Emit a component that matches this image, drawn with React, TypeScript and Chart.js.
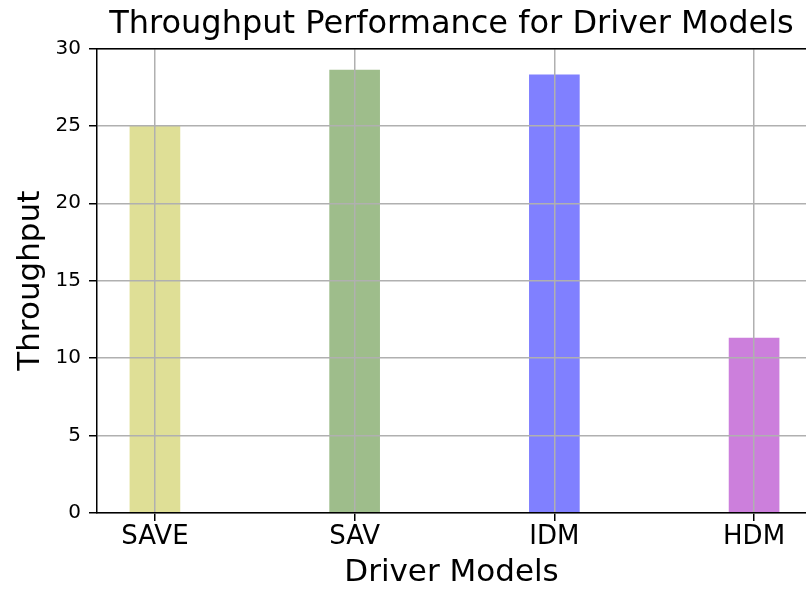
import React, { useEffect, useRef } from "react";
import { Chart, registerables } from "chart.js";

Chart.register(...registerables);

const categories = ["SAVE", "SAV", "IDM", "HDM"];
const throughput = [25.0, 28.6, 28.3, 11.3];
const barColors = ["#dfdf96", "#9ebd8b", "#8080ff", "#cc7fdc"];
const yTicks = [0, 5, 10, 15, 20, 25, 30];

const FONT = "'DejaVu Sans', sans-serif";

export default function App() {
  const ref = useRef<HTMLCanvasElement | null>(null);

  useEffect(() => {
    document.body.style.margin = "0";
    const canvas = ref.current;
    if (!canvas) return;
    const chart = new Chart(canvas, {
      type: "bar",
      data: {
        datasets: [
          {
            data: throughput.map((v, i) => ({ x: i, y: v })),
            backgroundColor: barColors,
            borderWidth: 0,
            barThickness: 50,
          },
        ],
      },
      options: {
        responsive: false,
        animation: false,
        layout: { padding: { left: 0, right: 0, top: 0, bottom: 0 } },
        plugins: {
          legend: { display: false },
          tooltip: { enabled: false },
          title: {
            display: true,
            text: "Throughput Performance for Driver Models",
            color: "#000",
            fullSize: false,
            font: { family: FONT, size: 32, weight: "normal" },
            padding: { top: 5, bottom: 5 },
          },
        },
        scales: {
          x: {
            type: "linear",
            min: -0.29,
            max: 3.26,
            offset: false,
            afterBuildTicks: (axis: any) => {
              axis.ticks = categories.map((_, i) => ({ value: i }));
            },
            afterFit: (axis: any) => {
              axis.height = 80;
            },
            ticks: {
              color: "#000",
              font: { family: FONT, size: 26 },
              padding: 1,
              maxRotation: 0,
              autoSkip: false,
              z: 1,
              callback: (v: any) => categories[v as number] ?? "",
            },
            grid: {
              offset: false,
              color: "#b0b0b0",
              lineWidth: 1.5,
              tickColor: "#000",
              tickLength: 8,
              z: 1,
            },
            border: { color: "#000", width: 1.5, z: 2 },
            title: {
              display: true,
              text: "Driver Models",
              color: "#000",
              font: { family: FONT, size: 31 },
              padding: { top: 0, bottom: 1 },
            },
          },
          xTop: {
            type: "linear",
            position: "top",
            min: -0.29,
            max: 3.26,
            offset: false,
            ticks: { display: false },
            grid: { display: false, drawTicks: false },
            border: { display: true, color: "#000", width: 1.5, z: 2 },
          },
          y: {
            min: 0,
            max: 30,
            afterBuildTicks: (axis: any) => {
              axis.ticks = yTicks.map((v) => ({ value: v }));
            },
            afterFit: (axis: any) => {
              axis.width = 97;
            },
            ticks: {
              color: "#000",
              font: { family: FONT, size: 20 },
              padding: 8,
              z: 1,
            },
            grid: {
              color: "#b0b0b0",
              lineWidth: 1.5,
              tickColor: "#000",
              tickLength: 8,
              z: 1,
            },
            border: { color: "#000", width: 1.5, z: 2 },
            title: {
              display: true,
              text: "Throughput",
              color: "#000",
              font: { family: FONT, size: 31 },
              padding: { top: 12, bottom: 7 },
            },
          },
        },
      },
    });
    return () => chart.destroy();
  }, []);

  return (
    <div style={{ width: 806, height: 593, background: "#fff" }}>
      <canvas ref={ref} width={806} height={593} />
    </div>
  );
}
